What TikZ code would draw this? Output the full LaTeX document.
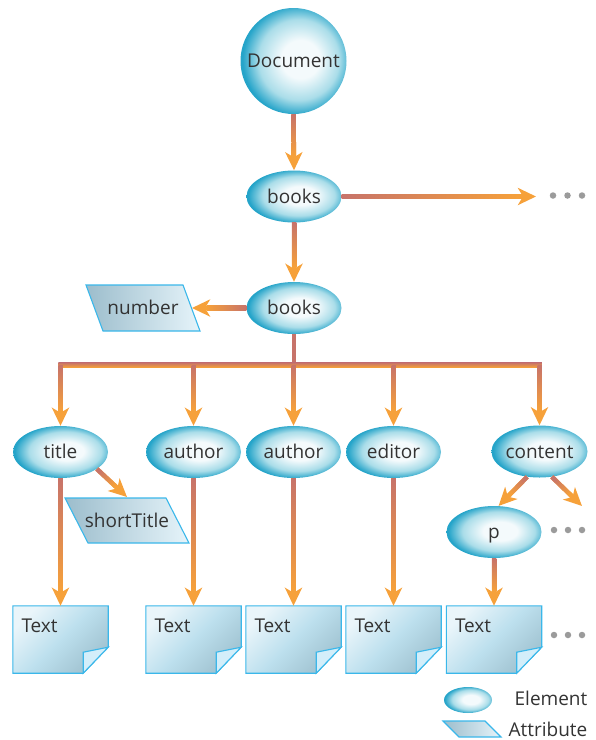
\documentclass[tikz,border=0pt]{standalone}
\usepackage{fontspec}
\setmainfont{Open Sans}
\usetikzlibrary{shapes.geometric,arrows.meta,calc}
\definecolor{cred}{HTML}{C7736A}
\definecolor{corange}{HTML}{F6A13A}
\definecolor{elight}{HTML}{F4FAFC}
\definecolor{emid}{HTML}{AADDE9}
\definecolor{edark}{HTML}{25A4C9}
\definecolor{cborder}{HTML}{3AB7EA}
\definecolor{boxlight}{HTML}{EAF5FA}
\definecolor{boxmid}{HTML}{BDE0EE}
\definecolor{boxdark}{HTML}{A0C2D0}
\definecolor{cfold}{HTML}{D3EEFA}
\definecolor{attrdark}{HTML}{9CBDCC}
\definecolor{attrlight}{HTML}{E6F4FA}
\definecolor{ctext}{HTML}{333333}
\definecolor{cdot}{HTML}{9B9B9B}
\pgfdeclareradialshading{elemshade}{\pgfpoint{4bp}{1bp}}{color(0bp)=(elight); color(9bp)=(elight); color(19bp)=(emid); color(26bp)=(edark); color(50bp)=(edark)}
\tikzset{
  every node/.style={font=\fontsize{19}{22}\selectfont, text=ctext, text height=13.8pt, text depth=0pt},
  elem/.style={ellipse, shade, shading=elemshade, minimum width=95pt, minimum height=52pt, inner sep=0pt},
  conn/.style={draw=corange, line width=4.5pt, -{Stealth[length=18pt,width=17pt,inset=5pt]}},
  plainline/.style={draw=cred, line width=4.5pt},
  attr/.style={draw=cborder, line width=1.1pt, left color=attrdark, right color=attrlight},
  tboxn/.style={rectangle, minimum width=95pt, minimum height=67pt, inner sep=0pt},
  boxfill/.style={draw=cborder, line width=1.1pt, top color=boxlight, bottom color=boxdark, middle color=boxmid, shading angle=45},
  fold/.style={draw=cborder, line width=1.1pt, fill=cfold},
  dotn/.style={circle, fill=cdot, minimum size=6.5pt, inner sep=0pt, text height=, text depth=}
}
% gradient shaft over a connector: #1 start, #2 tip end, #3 shading angle
\newcommand\gshaft[3]{%
  \coordinate (gA) at (#1);
  \coordinate (gB) at ($(#2)!14.5pt!(#1)$);
  \shade[top color=cred, bottom color=corange, shading angle=#3]
    ($(gA)!2.25pt!90:(gB)$) -- ($(gB)!2.25pt!-90:(gA)$) --
    ($(gB)!2.25pt!90:(gA)$) -- ($(gA)!2.25pt!-90:(gB)$) -- cycle;
}
\newcommand\textbox[2]{%
  \node[tboxn] (#1) at (#2) {};
  \shadedraw[boxfill] (#1.north west) -- (#1.north east) -- ($(#1.south east)+(0,-26)$) -- ($(#1.south east)+(-25,0)$) -- (#1.south west) -- cycle;
  \filldraw[fold] ($(#1.south east)+(0,-26)$) -- ($(#1.south east)+(-25,-21)$) -- ($(#1.south east)+(-25,0)$) -- cycle;
  \node[anchor=west, inner sep=0pt] (#1txt) at ($(#1.north west)+(8.5,20)$) {Text};
}
\begin{document}
\begin{tikzpicture}[x=1pt,y=-1pt]
\useasboundingbox (0,0) rectangle (596,740);

% element nodes
\node[elem, circle, minimum size=106pt] (doc) at (293.5,61) {Document};
\node[elem] (bk1) at (294,196.5) {books};
\node[elem] (bk2) at (294,308) {books};
\node[elem] (title) at (60.5,452) {title};
\node[elem] (au1) at (193.5,452) {author};
\node[elem] (au2) at (293.5,452) {author};
\node[elem] (ed) at (393.5,452) {editor};
\node[elem] (cont) at (539.5,451.5) {content};
\node[elem] (p) at (494,532) {p};

% attributes
\shadedraw[attr] (86,285) -- (183,285) -- (200,331) -- (103,331) -- cycle;
\node[inner sep=0pt] (number) at (143,308) {number};
\coordinate (numtip) at (192,308);
\shadedraw[attr] (65,498) -- (166,498) -- (189,543) -- (88,543) -- cycle;
\node[inner sep=0pt] (short) at (127,521) {shortTitle};
\coordinate (sttip) at (127,497);

% text boxes
\textbox{t1}{60.5,639.5}
\textbox{t2}{193.5,639.5}
\textbox{t3}{293.5,639.5}
\textbox{t4}{393.5,639.5}
\textbox{t5}{494,639.5}

% dots
\node[dotn] (da1) at (553,195.5) {};
\node[dotn] (da2) at (567.5,195.5) {};
\node[dotn] (da3) at (582,195.5) {};
\node[dotn] (db1) at (554,530) {};
\node[dotn] (db2) at (568,530) {};
\node[dotn] (db3) at (582,530) {};
\node[dotn] (dc1) at (554,635) {};
\node[dotn] (dc2) at (568,635) {};
\node[dotn] (dc3) at (582,635) {};

% connectors
\coordinate (bk1tip) at (536,196.5);
\coordinate (conttip) at (582,506);
\draw[conn] (doc.south) -- (bk1.north);
\gshaft{doc.south}{bk1.north}{0}
\draw[conn] (bk1.south) -- (bk2.north);
\gshaft{bk1.south}{bk2.north}{0}
\draw[conn] (bk1.east) -- (bk1tip);
\gshaft{bk1.east}{bk1tip}{90}
\draw[conn] (bk2.west) -- (numtip);
\gshaft{bk2.west}{numtip}{-90}

% tree
\coordinate (bar) at (bk2.south |- 0,365);
\coordinate (barL) at (title.north |- 0,365);
\coordinate (barR) at (cont.north |- 0,365);
\draw[plainline] (bk2.south) -- (bar);
\shade[top color=cred, bottom color=corange] ($(barL)+(-2.25,-2.25)$) rectangle ($(barR)+(2.25,2.25)$);
\foreach \n in {title,au1,au2,ed,cont}{
  \coordinate (drop) at (\n.north |- 0,365);
  \draw[conn] (drop) -- (\n.north);
  \gshaft{drop}{\n.north}{0}
}

\draw[conn] (title.-25) -- (sttip);
\gshaft{title.-25}{sttip}{45}
\draw[conn] (cont.-116) -- (p.80);
\gshaft{cont.-116}{p.80}{-45}
\draw[conn] (cont.-64) -- (conttip);
\gshaft{cont.-64}{conttip}{45}

\draw[conn] (title.south) -- (t1.north);
\gshaft{title.south}{t1.north}{0}
\draw[conn] (au1.south) -- (t2.north);
\gshaft{au1.south}{t2.north}{0}
\draw[conn] (au2.south) -- (t3.north);
\gshaft{au2.south}{t3.north}{0}
\draw[conn] (ed.south) -- (t4.north);
\gshaft{ed.south}{t4.north}{0}
\draw[conn] (p.south) -- (t5.north);
\gshaft{p.south}{t5.north}{0}

% legend
\node[elem, minimum width=48pt, minimum height=26pt] (legel) at (468,700) {};
\node[inner sep=0pt] (legeltxt) at (551,699) {Element};
\shadedraw[attr] (443,721) -- (485,721) -- (501,737) -- (459,737) -- cycle;
\node[inner sep=0pt] (legattxt) at (548,730) {Attribute};
\end{tikzpicture}
\end{document}
